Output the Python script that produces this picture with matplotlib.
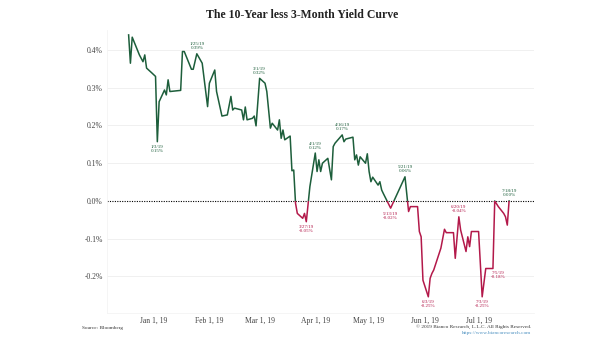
import pandas as pd
import matplotlib.pyplot as plt
import matplotlib.dates as mdates
from matplotlib.patches import Rectangle
from matplotlib.ticker import FuncFormatter

# 10Y minus 3M spread (%)
dates = ['2018-12-18', '2018-12-19', '2018-12-20', '2018-12-24', '2018-12-26', '2018-12-27', '2018-12-28', '2018-12-31',
         '2019-01-02', '2019-01-03', '2019-01-04', '2019-01-07', '2019-01-08', '2019-01-09', '2019-01-10', '2019-01-16',
         '2019-01-17', '2019-01-18', '2019-01-22', '2019-01-23', '2019-01-25', '2019-01-28', '2019-01-31',
         '2019-02-01', '2019-02-04', '2019-02-05', '2019-02-08', '2019-02-11', '2019-02-13', '2019-02-14', '2019-02-15',
         '2019-02-19', '2019-02-20', '2019-02-21', '2019-02-22', '2019-02-25', '2019-02-26', '2019-02-27',
         '2019-03-01', '2019-03-04', '2019-03-05', '2019-03-07', '2019-03-08', '2019-03-11', '2019-03-12', '2019-03-13',
         '2019-03-14', '2019-03-15', '2019-03-18', '2019-03-19', '2019-03-20', '2019-03-21', '2019-03-22', '2019-03-25',
         '2019-03-26', '2019-03-27', '2019-03-29',
         '2019-04-01', '2019-04-02', '2019-04-03', '2019-04-04', '2019-04-05', '2019-04-08', '2019-04-10', '2019-04-11',
         '2019-04-12', '2019-04-16', '2019-04-17', '2019-04-18', '2019-04-22', '2019-04-23', '2019-04-24', '2019-04-25',
         '2019-04-26', '2019-04-29', '2019-04-30',
         '2019-05-01', '2019-05-02', '2019-05-03', '2019-05-06', '2019-05-07', '2019-05-08', '2019-05-09', '2019-05-13',
         '2019-05-21', '2019-05-23', '2019-05-24', '2019-05-28', '2019-05-29', '2019-05-30', '2019-05-31',
         '2019-06-03', '2019-06-04', '2019-06-05', '2019-06-06', '2019-06-10', '2019-06-12', '2019-06-13', '2019-06-17',
         '2019-06-18', '2019-06-20', '2019-06-21', '2019-06-24', '2019-06-25', '2019-06-26', '2019-06-27',
         '2019-07-01', '2019-07-03', '2019-07-05', '2019-07-08', '2019-07-09', '2019-07-10', '2019-07-12', '2019-07-15',
         '2019-07-16', '2019-07-17', '2019-07-18']
spread = [0.44, 0.365, 0.434, 0.387, 0.369, 0.387, 0.352, 0.339,
          0.33, 0.157, 0.263, 0.294, 0.281, 0.321, 0.29, 0.293,
          0.396, 0.396, 0.349, 0.349, 0.39, 0.365, 0.25,
          0.312, 0.347, 0.29, 0.225, 0.228, 0.277, 0.241, 0.246,
          0.241, 0.215, 0.249, 0.215, 0.219, 0.225, 0.199,
          0.325, 0.312, 0.29, 0.193, 0.206, 0.188, 0.215, 0.166,
          0.188, 0.162, 0.172, 0.08, 0.082, -0.006, -0.033, -0.046,
          -0.033, -0.055, 0.038,
          0.127, 0.078, 0.109, 0.078, 0.10, 0.113, 0.056, 0.144,
          0.153, 0.175, 0.157, 0.164, 0.169, 0.109, 0.122, 0.095,
          0.117, 0.10, 0.125,
          0.078, 0.051, 0.063, 0.042, 0.051, 0.029, 0.019, -0.019,
          0.064, -0.028, -0.015, -0.015, -0.081, -0.095, -0.21,
          -0.254, -0.205, -0.192, -0.183, -0.125, -0.075, -0.084, -0.084,
          -0.152, -0.042, -0.077, -0.134, -0.095, -0.121, -0.081,
          -0.081, -0.254, -0.179, -0.179, -0.179, 0.0, -0.015, -0.033,
          -0.042, -0.064, 0.0]

label_dates = ['2019-01-03', '2019-01-25', '2019-03-01', '2019-03-27', '2019-04-01', '2019-04-16', '2019-05-13',
               '2019-05-21', '2019-06-03', '2019-06-20', '2019-07-03', '2019-07-05', '2019-07-18']
label_texts = ['1/3/19\n0.15%', '1/25/19\n0.39%', '3/1/19\n0.32%', '3/27/19\n-0.05%', '4/1/19\n0.12%',
               '4/16/19\n0.17%', '5/13/19\n-0.02%', '5/21/19\n0.06%', '6/3/19\n-0.25%', '6/20/19\n-0.04%',
               '7/3/19\n-0.25%', '7/5/19\n-0.18%', '7/18/19\n0.00%']
label_above = [False, True, True, False, True, True, False, True, False, True, False, False, True]

xtick_dates = ['2019-01-01', '2019-02-01', '2019-03-01', '2019-04-01', '2019-05-01', '2019-06-01', '2019-07-01']
yticks = [-0.2, -0.1, 0.0, 0.1, 0.2, 0.3, 0.4]

GREEN = '#1d5e3b'
RED = '#b3194a'
SERIF = 'Liberation Serif'

s = pd.Series(spread, index=pd.to_datetime(dates))

fig = plt.figure(figsize=(6.05, 3.41), dpi=100)
ax = fig.add_axes([0.177, 0.082, 0.706, 0.83])

xmin = mdates.date2num(pd.Timestamp('2018-12-06'))
xmax = mdates.date2num(pd.Timestamp('2019-08-01'))
ax.set_xlim(xmin, xmax)
ax.set_ylim(-0.297, 0.453)

# positive part green, negative part red
pos_line, = ax.plot(s.index, s.values, color=GREEN, lw=1.1, zorder=3)
neg_line, = ax.plot(s.index, s.values, color=RED, lw=1.1, zorder=3)
pos_line.set_clip_path(Rectangle((xmin, 0), xmax - xmin, 1, transform=ax.transData))
neg_line.set_clip_path(Rectangle((xmin, -1), xmax - xmin, 1, transform=ax.transData))

ax.axhline(0, color='black', lw=0.8, ls=(0, (1, 1.2)), zorder=2)
for y in yticks:
    if y != 0:
        ax.axhline(y, color='#eeeeee', lw=0.6, zorder=1)

for d, txt, above in zip(label_dates, label_texts, label_above):
    v = s[pd.Timestamp(d)]
    col = GREEN if v >= 0 else RED
    if d == '2019-07-05':
        off = (9, -2)
    else:
        off = (0, 2.5 if above else -2.5)
    ax.annotate(txt, xy=(pd.Timestamp(d), v), xytext=off, textcoords='offset points',
                ha='center', va='bottom' if above else 'top', fontsize=3.6, color=col,
                family=SERIF, linespacing=1.0)

ax.set_xticks(pd.to_datetime(xtick_dates))
ax.xaxis.set_major_formatter(FuncFormatter(
    lambda x, p: '{} {}, {}'.format(mdates.num2date(x).strftime('%b'), mdates.num2date(x).day,
                                    mdates.num2date(x).strftime('%y'))))
ax.set_yticks(yticks)
ax.yaxis.set_major_formatter(FuncFormatter(lambda y, p: '{:.1f}%'.format(y)))
ax.tick_params(length=0, labelsize=5.5, labelcolor='#444444', pad=3)
for lab in ax.get_xticklabels() + ax.get_yticklabels():
    lab.set_family(SERIF)
for side in ['top', 'right']:
    ax.spines[side].set_visible(False)
for side in ['left', 'bottom']:
    ax.spines[side].set_color('#f4f4f4')
    ax.spines[side].set_linewidth(0.6)

fig.text(0.5, 0.955, 'The 10-Year less 3-Month Yield Curve', ha='center', va='center',
         fontsize=8.5, fontweight='bold', family=SERIF, color='#222222')
fig.text(0.136, 0.038, 'Source: Bloomberg', ha='left', va='center', fontsize=3.8, family=SERIF, color='#333333')
fig.text(0.878, 0.042, '\u00a9 2019 Bianco Research, L.L.C. All Rights Reserved.', ha='right', va='center',
         fontsize=3.8, family=SERIF, color='#333333')
fig.text(0.878, 0.022, 'https://www.biancoresearch.com', ha='right', va='center',
         fontsize=3.8, family=SERIF, color='#4a8fc0')

plt.savefig('out.png', dpi=100)
